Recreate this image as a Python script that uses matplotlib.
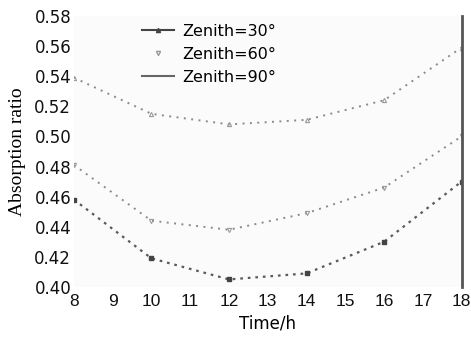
import numpy as np
import matplotlib
matplotlib.use('Agg')
import matplotlib.pyplot as plt
from matplotlib.lines import Line2D

# hourly absorption ratio for three solar zenith angles
hours = [8, 10, 12, 14, 16, 18]
ratio_z30 = [0.458, 0.419, 0.405, 0.409, 0.430, 0.470]
ratio_z60 = [0.481, 0.444, 0.438, 0.449, 0.466, 0.500]
ratio_z90 = [0.539, 0.515, 0.508, 0.511, 0.524, 0.559]

xticks = list(range(8, 19))
yticks = [0.40, 0.42, 0.44, 0.46, 0.48, 0.50, 0.52, 0.54, 0.56, 0.58]

plt.rcParams['font.family'] = ['DejaVu Sans']

fig = plt.figure(figsize=(4.71, 3.40), dpi=100)
ax = fig.add_axes([0.157, 0.156, 0.823, 0.797])
ax.set_facecolor('#fbfbfb')

ax.plot(hours, ratio_z30, linestyle=(0, (1.2, 2.2)), color='#5a5a5a', linewidth=1.6,
        marker='s', markersize=2.5, markerfacecolor='#444444', markeredgecolor='#444444')
ax.plot(hours, ratio_z60, linestyle=(0, (1.0, 2.8)), color='#8a8a8a', linewidth=1.4,
        marker='v', markersize=3, markerfacecolor='none', markeredgecolor='#999999', markeredgewidth=0.8)
ax.plot(hours, ratio_z90, linestyle=(0, (1.0, 2.8)), color='#8a8a8a', linewidth=1.4,
        marker='^', markersize=3, markerfacecolor='none', markeredgecolor='#999999', markeredgewidth=0.8)

ax.set_xlim(8, 18)
ax.set_ylim(0.40, 0.58)
ax.set_xticks(xticks)
ax.set_yticks(yticks)
ax.set_yticklabels([f'{v:.2f}' for v in yticks])
ax.tick_params(axis='y', length=0, labelsize=12, pad=2, colors='#111111')
ax.tick_params(axis='x', length=0, labelsize=12.5, pad=5, colors='#111111')
for lbl in ax.get_xticklabels():
    lbl.set_family('Liberation Sans')

for side in ['left', 'top', 'bottom']:
    ax.spines[side].set_visible(False)
ax.spines['right'].set_color('#555555')
ax.spines['right'].set_linewidth(2)

ax.set_xlabel('Time/h', fontsize=12, labelpad=4)
ax.set_ylabel('Absorption ratio', fontsize=14, family='Liberation Serif', labelpad=6)

handles = [
    Line2D([], [], color='#444444', linewidth=1.5, marker='^', markersize=3),
    Line2D([], [], linestyle='none', marker='v', markersize=3,
           markerfacecolor='none', markeredgecolor='#999999'),
    Line2D([], [], color='#666666', linewidth=1.5),
]
labels = ['Zenith=30°', 'Zenith=60°', 'Zenith=90°']
ax.legend(handles, labels, loc='upper left', bbox_to_anchor=(0.16, 0.995),
          frameon=False, fontsize=11.5, handlelength=2.0, labelspacing=0.5,
          handletextpad=0.5, borderaxespad=0.0)

fig.savefig('out.png', dpi=100)
